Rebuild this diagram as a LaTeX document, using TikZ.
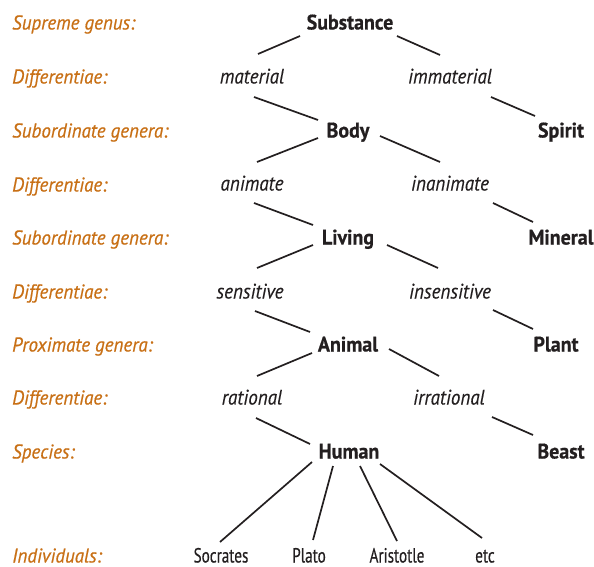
\documentclass[tikz,border=0pt]{standalone}
\usepackage{fontspec}
\setmainfont{PT Sans}
\newfontfamily\lvlfont[FakeStretch=0.95,FakeBold=0.6]{PT Sans Italic}
\newfontfamily\genfont[FakeStretch=0.95,FakeBold=0.6]{PT Sans Bold}
\newfontfamily\difffont[FakeStretch=0.91,FakeBold=0.2]{PT Sans Italic}
\newfontfamily\indfont[FakeStretch=0.74,FakeBold=0.4]{PT Sans}
\usetikzlibrary{calc}
\definecolor{labelorange}{RGB}{200,112,22}
\definecolor{ink}{RGB}{35,31,32}
\begin{document}
\begin{tikzpicture}[x=1pt,y=-1pt,
  txt/.style={inner sep=0pt,text height=15pt,text depth=0pt},
  lvl/.style={txt,anchor=west,text=labelorange,font=\lvlfont\fontsize{20}{23}\selectfont},
  genus/.style={txt,text=ink,font=\genfont\fontsize{21}{24}\selectfont},
  diff/.style={txt,text=ink,font=\difffont\fontsize{21}{24}\selectfont},
  indiv/.style={txt,text=ink,font=\indfont\fontsize{20.5}{23}\selectfont},
  link/.style={draw=ink,line width=1.7pt}]
\useasboundingbox (0,0) rectangle (594,567);
% level labels
\node[lvl] (l1) at (12,22) {Supreme genus:};
\node[lvl] (l2) at (12,76) {Differentiae:};
\node[lvl] (l3) at (12,130) {Subordinate genera:};
\node[lvl] (l4) at (12,184) {Differentiae:};
\node[lvl] (l5) at (12,237) {Subordinate genera:};
\node[lvl] (l6) at (12,291) {Differentiae:};
\node[lvl] (l7) at (12,344) {Proximate genera:};
\node[lvl] (l8) at (12,397) {Differentiae:};
\node[lvl] (l9) at (12,451) {Species:};
\node[lvl] (l10) at (12,555) {Individuals:};
% tree
\node[genus] (sub) at (350,22) {Substance};
\node[diff] (mat) at (252,76) {material};
\node[diff] (imm) at (450,76) {immaterial};
\node[genus] (body) at (348,130) {Body};
\node[genus] (spirit) at (561,130) {Spirit};
\node[diff] (anim) at (252,183) {animate};
\node[diff] (inan) at (450,183) {inanimate};
\node[genus] (living) at (348,237) {Living};
\node[genus] (mineral) at (561,237) {Mineral};
\node[diff] (sens) at (250,291) {sensitive};
\node[diff] (insens) at (450,291) {insensitive};
\node[genus] (animal) at (348,344) {Animal};
\node[genus] (plant) at (556,344) {Plant};
\node[diff] (rat) at (252,397) {rational};
\node[diff] (irr) at (449,397) {irrational};
\node[genus] (human) at (349,451) {Human};
\node[genus] (beast) at (561,451) {Beast};
\node[indiv] (soc) at (221,555) {Socrates};
\node[indiv] (plato) at (309,555) {Plato};
\node[indiv] (arist) at (397,555) {Aristotle};
\node[indiv] (etc) at (485,555) {etc};
% connectors
\draw[link] ($(sub)+(-50,14)$) -- ($(mat)+(6,-22)$);
\draw[link] ($(sub)+(47,14)$) -- ($(imm)+(-10,-21)$);
\draw[link] ($(mat)+(2,21)$) -- ($(body)+(-30,-10)$);
\draw[link] ($(imm)+(41,21)$) -- ($(spirit)+(-26,-14)$);
\draw[link] ($(body)+(-30,8)$) -- ($(anim)+(5,-21)$);
\draw[link] ($(body)+(32,6)$) -- ($(inan)+(-10,-21)$);
\draw[link] ($(anim)+(2,20)$) -- ($(living)+(-35,-12)$);
\draw[link] ($(inan)+(43,20)$) -- ($(mineral)+(-28,-15)$);
\draw[link] ($(living)+(-35,8)$) -- ($(sens)+(7,-23)$);
\draw[link] ($(living)+(39,8)$) -- ($(insens)+(-12,-23)$);
\draw[link] ($(sens)+(5,20)$) -- ($(animal)+(-38,-12)$);
\draw[link] ($(insens)+(43,19)$) -- ($(plant)+(-23,-15)$);
\draw[link] ($(animal)+(-36,9)$) -- ($(rat)+(5,-21)$);
\draw[link] ($(animal)+(41,5)$) -- ($(irr)+(-10,-21)$);
\draw[link] ($(rat)+(4,21)$) -- ($(human)+(-39,-7)$);
\draw[link] ($(irr)+(43,20)$) -- ($(beast)+(-28,-16)$);
\draw[link] ($(human)+(-37,11)$) -- ($(soc)+(-1,-13)$);
\draw[link] ($(human)+(-16,15)$) -- ($(plato)+(4,-15)$);
\draw[link] ($(human)+(11,15)$) -- ($(arist)+(0,-14)$);
\draw[link] ($(human)+(31,13)$) -- ($(etc)+(-3,-17)$);
\end{tikzpicture}
\end{document}
